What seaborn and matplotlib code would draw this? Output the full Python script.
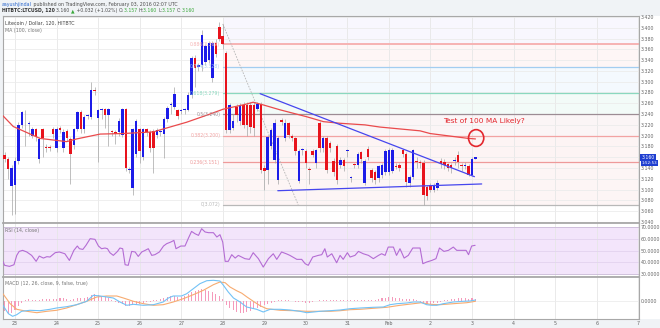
import matplotlib
matplotlib.use("Agg")
import matplotlib.pyplot as plt
import matplotlib.transforms as mtransforms
from matplotlib.patches import Ellipse, Rectangle
import numpy as np
import pandas as pd
import seaborn as sns

sns.set_theme(style="white")
plt.rcParams["font.family"] = ["DejaVu Sans"]

# ---------------- data ----------------
# 2h candles of LTC/USD, Jan 22 18:00 .. Feb 3 02:00 (UTC)
bar_open = [3.164, 3.157, 3.106, 3.109, 3.153, 3.220, 3.243, 3.222, 3.200, 3.212,
            3.157, 3.212, 3.179, 3.179, 3.212, 3.178, 3.214, 3.178, 3.208, 3.194,
            3.182, 3.212, 3.243, 3.212, 3.237, 3.235, 3.285, 3.232, 3.248, 3.249,
            3.238, 3.207, 3.207, 3.207, 3.202, 3.249, 3.136, 3.104, 3.167, 3.212,
            3.161, 3.212, 3.207, 3.208, 3.201, 3.206, 3.204, 3.231, 3.257, 3.254,
            3.247, 3.246, 3.247, 3.248, 3.275, 3.344, 3.327, 3.330, 3.337, 3.340,
            3.306, 3.371, 3.402, 3.385, 3.354, 3.210, 3.215, 3.254, 3.227, 3.256,
            3.256, 3.256, 3.256, 3.250, 3.258, 3.140, 3.136, 3.181, 3.155, 3.118,
            3.229, 3.196, 3.223, 3.200, 3.195, 3.117, 3.173, 3.172, 3.138, 3.172,
            3.149, 3.223, 3.178, 3.196, 3.186, 3.153, 3.180, 3.146, 3.155, 3.171,
            3.121, 3.148, 3.146, 3.169, 3.112, 3.176, 3.136, 3.133, 3.121, 3.128,
            3.133, 3.133, 3.135, 3.144, 3.145, 3.173, 3.167, 3.112, 3.124, 3.152,
            3.150, 3.150, 3.105, 3.108, 3.100, 3.104, 3.154, 3.152, 3.147, 3.145,
            3.153, 3.164, 3.144, 3.144, 3.143, 3.128, 3.157]
bar_high = [3.170, 3.160, 3.145, 3.160, 3.225, 3.246, 3.248, 3.228, 3.216, 3.215,
            3.198, 3.215, 3.185, 3.183, 3.216, 3.216, 3.218, 3.212, 3.212, 3.197,
            3.215, 3.246, 3.248, 3.238, 3.240, 3.300, 3.290, 3.250, 3.252, 3.252,
            3.252, 3.210, 3.210, 3.232, 3.252, 3.252, 3.142, 3.215, 3.230, 3.215,
            3.215, 3.215, 3.210, 3.212, 3.215, 3.210, 3.235, 3.255, 3.262, 3.290,
            3.250, 3.250, 3.252, 3.280, 3.348, 3.350, 3.335, 3.395, 3.370, 3.375,
            3.375, 3.380, 3.410, 3.407, 3.356, 3.260, 3.240, 3.258, 3.260, 3.262,
            3.262, 3.262, 3.262, 3.262, 3.262, 3.145, 3.202, 3.215, 3.230, 3.200,
            3.232, 3.230, 3.226, 3.203, 3.198, 3.175, 3.178, 3.175, 3.142, 3.175,
            3.176, 3.228, 3.200, 3.200, 3.190, 3.158, 3.185, 3.160, 3.158, 3.175,
            3.126, 3.150, 3.170, 3.172, 3.156, 3.180, 3.140, 3.137, 3.146, 3.150,
            3.176, 3.178, 3.178, 3.150, 3.150, 3.176, 3.170, 3.128, 3.176, 3.160,
            3.155, 3.155, 3.108, 3.112, 3.112, 3.118, 3.158, 3.156, 3.150, 3.150,
            3.160, 3.172, 3.150, 3.152, 3.147, 3.160, 3.160]
bar_low = [3.152, 3.120, 3.054, 3.055, 3.148, 3.215, 3.180, 3.200, 3.195, 3.190,
           3.150, 3.160, 3.170, 3.172, 3.195, 3.170, 3.205, 3.170, 3.190, 3.110,
           3.175, 3.208, 3.205, 3.205, 3.230, 3.230, 3.275, 3.152, 3.230, 3.215,
           3.180, 3.200, 3.185, 3.200, 3.198, 3.135, 3.130, 3.090, 3.160, 3.150,
           3.155, 3.200, 3.170, 3.130, 3.195, 3.200, 3.158, 3.225, 3.240, 3.250,
           3.230, 3.240, 3.240, 3.245, 3.270, 3.290, 3.320, 3.320, 3.330, 3.335,
           3.300, 3.345, 3.375, 3.360, 3.205, 3.205, 3.210, 3.225, 3.220, 3.215,
           3.200, 3.205, 3.200, 3.245, 3.130, 3.100, 3.110, 3.175, 3.150, 3.110,
           3.220, 3.190, 3.195, 3.190, 3.165, 3.112, 3.165, 3.140, 3.110, 3.160,
           3.140, 3.170, 3.170, 3.130, 3.170, 3.125, 3.110, 3.140, 3.135, 3.160,
           3.115, 3.140, 3.140, 3.150, 3.108, 3.155, 3.115, 3.110, 3.115, 3.122,
           3.128, 3.128, 3.130, 3.138, 3.135, 3.160, 3.105, 3.105, 3.120, 3.140,
           3.140, 3.072, 3.080, 3.095, 3.095, 3.100, 3.140, 3.138, 3.135, 3.130,
           3.145, 3.140, 3.135, 3.138, 3.125, 3.125, 3.157]
bar_close = [3.157, 3.138, 3.140, 3.153, 3.220, 3.243, 3.244, 3.223, 3.212, 3.198,
             3.194, 3.195, 3.177, 3.177, 3.203, 3.212, 3.210, 3.207, 3.195, 3.167,
             3.212, 3.243, 3.212, 3.235, 3.238, 3.285, 3.283, 3.248, 3.249, 3.238,
             3.249, 3.206, 3.203, 3.227, 3.249, 3.140, 3.138, 3.212, 3.227, 3.172,
             3.212, 3.206, 3.177, 3.178, 3.210, 3.207, 3.231, 3.251, 3.258, 3.278,
             3.236, 3.247, 3.248, 3.275, 3.344, 3.325, 3.331, 3.386, 3.367, 3.371,
             3.371, 3.352, 3.380, 3.370, 3.210, 3.256, 3.227, 3.238, 3.256, 3.220,
             3.220, 3.217, 3.214, 3.258, 3.136, 3.134, 3.198, 3.210, 3.223, 3.195,
             3.226, 3.223, 3.201, 3.196, 3.172, 3.172, 3.174, 3.149, 3.136, 3.165,
             3.173, 3.178, 3.196, 3.136, 3.178, 3.133, 3.118, 3.155, 3.143, 3.172,
             3.123, 3.145, 3.167, 3.157, 3.153, 3.160, 3.121, 3.118, 3.143, 3.146,
             3.172, 3.173, 3.173, 3.142, 3.140, 3.167, 3.115, 3.124, 3.173, 3.151,
             3.149, 3.090, 3.088, 3.100, 3.108, 3.112, 3.148, 3.146, 3.141, 3.140,
             3.155, 3.152, 3.143, 3.145, 3.128, 3.157, 3.160]

# MA(100, close) read at sample bars
ma_idx = [-0.5, 2.5, 10.2, 17.9, 20.8, 27.6, 34.2, 42.9, 52.6, 58.4, 63.1, 69.5,
          71.8, 74.7, 79.5, 87.3, 92.1, 96.9, 104.1, 108.4, 120.0, 122.9, 133.9, 136.0]
ma_val = [3.237, 3.217, 3.195, 3.189, 3.194, 3.203, 3.204, 3.207, 3.225, 3.238,
          3.249, 3.258, 3.262, 3.257, 3.248, 3.235, 3.226, 3.223, 3.220, 3.216,
          3.209, 3.204, 3.195, 3.194]

# RSI(14, close)
rsi_idx = [-0.5, 0, 1.4, 2.7, 3.5, 4.2, 5.2, 6.4, 7.8, 9.1, 10, 11.2, 12.2, 13.1,
           14.6, 15.8, 17.4, 18.7, 20, 21, 21.6, 22.6, 23.5, 24.7, 26.1, 27.1, 28,
           29, 29.7, 30.4, 31.4, 32.6, 33.3, 34.1, 34.8, 35.7, 36.7, 37.7, 38.6,
           39.6, 40.6, 41.5, 42.5, 43.4, 44.7, 45.9, 46.8, 48, 48.9, 49.5, 50.9,
           52.1, 53.1, 54, 55, 56, 56.9, 57.9, 58.9, 60.3, 61.3, 62.2, 63, 63.7,
           64.6, 65.6, 66.6, 67.5, 69.4, 70.7, 71.8, 73.3, 74.7, 76.2, 77.6, 78.6,
           80, 81.5, 82.4, 84.4, 85.8, 86.8, 87.7, 89, 90.6, 91.6, 92.5, 93.2, 94.5,
           95.9, 96.9, 97.8, 99, 99.8, 101.2, 102.2, 103.6, 105.1, 106.5, 108,
           108.9, 109.9, 110.8, 112.3, 113.2, 114.2, 115.4, 116.6, 117.9, 119, 120,
           120.8, 121.9, 123.4, 124.6, 125.6, 126.9, 128.2, 129.6, 130.6, 132,
           133.3, 134, 134.9, 135.9]
rsi_val = [40.9, 37.5, 36.6, 38.0, 46.0, 49.4, 50.3, 48.9, 46.0, 40.9, 45.4, 43.7,
           44.9, 44.6, 48.3, 48.9, 47.4, 41.7, 50.3, 54.0, 51.7, 51.1, 54.6, 60.3,
           59.7, 54.0, 51.7, 52.3, 51.7, 48.3, 46.0, 49.4, 52.3, 51.7, 38.0, 37.5,
           49.4, 48.9, 45.1, 48.9, 50.3, 51.7, 46.0, 46.6, 48.9, 54.0, 56.0, 57.4,
           58.8, 51.7, 54.0, 54.0, 60.8, 66.5, 64.5, 63.1, 68.8, 66.0, 65.4, 65.4,
           61.7, 63.7, 57.4, 40.9, 40.9, 46.6, 43.7, 46.0, 43.2, 42.6, 48.3, 43.2,
           36.0, 43.2, 47.4, 42.6, 48.9, 47.2, 46.0, 42.6, 42.6, 38.9, 37.5, 44.6,
           46.0, 46.6, 51.7, 44.6, 47.4, 39.7, 46.0, 42.6, 48.3, 44.6, 46.0, 49.4,
           47.4, 46.0, 43.2, 46.0, 47.4, 46.0, 53.1, 53.1, 46.0, 51.7, 43.7, 46.0,
           52.3, 52.3, 52.3, 38.9, 40.3, 41.7, 43.2, 52.3, 49.4, 50.3, 53.1, 50.3,
           50.3, 50.3, 46.6, 54.0, 54.6]

# MACD(12, 26, close, 9) in units of 0.001
macd_idx = [-0.5, 1.1, 2.3, 3.5, 4.9, 7.3, 10.2, 13.1, 15.0, 17.9, 20.8, 23.7,
            25.6, 27.6, 29.5, 31.4, 33.3, 35.3, 37.2, 40.1, 43.0, 45.8, 47.3,
            48.7, 51.1, 52.6, 54.5, 56.4, 58.4, 60.3, 62.2, 63.2, 64.6, 66.1,
            68.0, 69.9, 72.8, 74.7, 76.7, 79.6, 82.4, 85.3, 87.3, 89.2, 91.1,
            94.0, 96.9, 99.8, 102.7, 106.5, 109.4, 111.3, 113.3, 116.1, 118.1,
            120.0, 121.9, 123.4, 124.8, 126.7, 129.6, 132.5, 134.4, 136.0]
macd_val = [-4.6, -13.0, -15.6, -14.0, -10.6, -9.6, -10.0, -8.6, -7.3, -6.0, -4.0,
            -0.6, 5.4, 4.7, 3.7, 2.7, -1.3, -4.6, -3.6, -4.6, -4.0, -1.3, 2.7,
            4.7, 4.7, 7.0, 12.0, 17.0, 20.0, 20.4, 19.7, 15.4, 8.7, 2.7, -1.3,
            -6.3, -8.6, -11.3, -8.6, -8.6, -9.3, -10.6, -12.0, -11.3, -10.6,
            -10.0, -9.3, -8.0, -7.3, -6.6, -6.3, -4.0, -3.0, -2.3, -1.3, -1.3,
            -4.0, -4.6, -4.6, -3.0, -1.3, -0.6, -0.3, 0.7]
signal_idx = [-0.5, 1.6, 3.5, 6.4, 9.3, 12.2, 15.0, 17.9, 20.8, 23.7, 26.6, 29.5,
              32.4, 34.3, 37.2, 40.1, 43.0, 45.8, 48.7, 51.6, 54.5, 57.4, 60.3,
              62.2, 63.7, 65.1, 67.0, 68.5, 70.0, 72.0, 73.8, 75.7, 79.6, 83.4,
              87.3, 91.1, 94.0, 96.9, 99.8, 102.7, 106.5, 110.4, 114.2, 118.1,
              120.5, 122.9, 125.8, 129.6, 133.5, 136.0]
signal_val = [7.0, -3.0, -8.6, -10.6, -12.0, -10.6, -9.6, -7.3, -4.0, -0.6, 3.7,
              4.7, 4.7, 2.7, -0.6, -3.0, -4.6, -4.0, -1.3, 2.0, 6.0, 10.4, 16.0,
              18.7, 18.0, 13.7, 10.0, 7.5, 3.7, -1.0, -5.0, -8.0, -9.6, -10.0,
              -10.6, -10.6, -10.6, -10.0, -9.0, -8.6, -7.6, -6.6, -4.6, -3.0,
              -2.0, -3.6, -4.0, -3.0, -2.0, -0.6]
hist_val = [-10, -13, -12, -9, -5, -2, 1, 1.5, 1, 0.5, 1, 1.5, 2, 2, 1.5, 2, 2.5,
            2.5, 2, 1, 2, 2.5, 3, 3, 4, 6, 7, 6, 5, 4, 3, 1, -1, -2, -3, -5, -5,
            -4, -4, -3, -2, -1, -1, 0.5, 1, 1.5, 3, 4, 5, 5, 4, 4, 5, 7, 9, 10,
            11, 12, 11, 10, 9, 7, 5, 2, -4, -7, -9, -11, -12, -12, -11, -10, -8,
            -7, -6, -4, -3, -2, -1, 0.5, 1, 1, 0.5, -0.5, -1, -1, -1.5, -2, -2,
            -1, -0.5, 0.5, 1, 0.5, 0.5, 0.5, 0.5, 1, 1, 1, 1, 1, 1, 1, 1, 1, 1,
            1, 2, 2.5, 3, 3.5, 3.5, 3, 2.5, 2, 2, 2, 1.5, 0.5, -1, -2.5, -3, -3,
            -2.5, -2, -1, 0.5, 1, 1.5, 2, 2.5, 2.5, 2.5, 2, 2.5, 2]

# Fibonacci retracement (Jan 28 00:00 high -> Jan 29 low)
fib_ratio = ["0.886", "0.764", "0.618", "0.5", "0.382", "0.236", "0"]
fib_price = [3.369, 3.328, 3.279, 3.240, 3.200, 3.151, 3.072]
fib_high = 3.407
fib_line_colors = ["#f6b3b3", "#a3cdf0", "#8ad8bf", "#9c8c94", "#f2a3a3", "#ee9a9a", "#b8b8b8"]
fib_band_colors = ["#f8f7fe", "#fef6f6", "#f4f9fe", "#f3fbf8", "#fbf5f6", "#fdf4f4", "#fdf5f5"]
fib_anchor = [63, 84.8]

# hand-drawn trend lines (bar index, price)
trend_upper = ([73.8, 135.7], [3.2778, 3.1241])
trend_lower = ([78.9, 137.8], [3.0981, 3.1106])

day_labels = ["23", "24", "25", "26", "27", "28", "29", "30", "31", "Feb",
              "2", "3", "4", "5", "6", "7"]
last_price = 3.160

# ---------------- layout ----------------
W, H = 660, 328
fig = plt.figure(figsize=(W / 100, H / 100), dpi=100, facecolor="#f0f3f6")


def rect(x0, y0, x1, y1):
    return [x0 / W, 1 - y1 / H, (x1 - x0) / W, (y1 - y0) / H]


# white price-scale strip on the right (behind the axes and their labels)
fig.patches.append(Rectangle((639 / W, 1 - 319 / H), 21 / W, (319 - 15.5) / H,
                             transform=fig.transFigure, fc="white", ec="none",
                             zorder=-5))

ax = fig.add_axes(rect(3, 15.5, 639, 223))
ax_rsi = fig.add_axes(rect(3, 223, 639, 277.3), sharex=ax)
ax_macd = fig.add_axes(rect(3, 277.3, 639, 319), sharex=ax)

n = len(bar_close)
idx = np.arange(n)
x_lo, x_hi = -0.47, 183.24
day_pos = [3 + 12 * k for k in range(len(day_labels))]

for a in (ax, ax_rsi, ax_macd):
    a.set_facecolor("white")
    for s in a.spines.values():
        s.set_color("#a8a8a8")
        s.set_linewidth(0.8)
    for d in day_pos:
        a.axvline(d, color="#e7e7e7", lw=0.6, zorder=1)
    a.tick_params(axis="both", length=0, labelsize=3.4, labelcolor="#666666", pad=1.5)
    a.yaxis.tick_right()
ax_rsi.spines["top"].set_linewidth(1.3)
ax_macd.spines["top"].set_linewidth(1.3)

# ---------------- main price panel ----------------
ax.set_xlim(x_lo, x_hi)
ax.set_ylim(3.0383, 3.4226)
price_ticks = np.round(np.arange(3.04, 3.4201, 0.02), 3)
ax.set_yticks(price_ticks)
ax.set_yticklabels([f"{v:.3f}" for v in price_ticks])
for v in price_ticks:
    ax.axhline(v, color="#ececec", lw=0.6, zorder=1)

# fib bands and levels
band_tops = [3.4226] + fib_price[:-1]
for top, bot, col in zip(band_tops, fib_price, fib_band_colors):
    ax.fill_between([fib_anchor[0], x_hi], bot, top, color=col, lw=0, zorder=0.5)
for r, p, col in zip(fib_ratio, fib_price, fib_line_colors):
    lw = 1.4 if r == "0.886" else 0.9
    ax.plot([fib_anchor[0], x_hi], [p, p], color=col, lw=lw, zorder=2)
    ax.text(62.3, p, f"{r}({p:.3f})", color=col, fontsize=3.3, ha="right",
            va="center", zorder=6)
ax.plot(fib_anchor, [fib_high, fib_price[-1]], color="#b5b5b5", lw=0.6,
        ls=(0, (2, 1.5)), zorder=2)

# candles
o = np.array(bar_open)
h = np.array(bar_high)
l = np.array(bar_low)
c = np.array(bar_close)
up = c >= o
ax.vlines(idx, l, h, color="#a5a5a5", lw=0.5, zorder=3)
body_lo = np.minimum(o, c)
body_h = np.maximum(np.abs(c - o), 0.0018)
ax.bar(idx[up], body_h[up], bottom=body_lo[up], width=0.72, color="#1c1ce8",
       lw=0, zorder=4)
ax.bar(idx[~up], body_h[~up], bottom=body_lo[~up], width=0.72, color="#e8131c",
       lw=0, zorder=4)

# moving average
sns.lineplot(x=ma_idx, y=ma_val, ax=ax, color="#ea4a4c", lw=0.9, zorder=5)

# trend lines
ax.plot(*trend_upper, color="#4646ee", lw=0.9, zorder=5)
ax.plot(*trend_lower, color="#4646ee", lw=0.9, zorder=5)

# annotation
ax.text(126.6, 3.2265, "Test of 100 MA Likely?", color="#e3262d", fontsize=5.3,
        ha="left", va="center", zorder=7)
ax.add_patch(Ellipse((136.2, 3.1957), 4.4, 0.031, fill=False, ec="#e3262d",
                     lw=1.2, zorder=7))

ax.text(0.0035, 0.962, "Litecoin / Dollar, 120, HITBTC", transform=ax.transAxes,
        fontsize=3.4, color="#444444", ha="left", va="center")
ax.text(0.0035, 0.93, "MA (100, close)", transform=ax.transAxes,
        fontsize=3.4, color="#777777", ha="left", va="center")

# last-price tags on the price scale
tag = mtransforms.blended_transform_factory(ax.transAxes, ax.transData)
ax.text(1.004, 3.159, f"{last_price:.3f}", transform=tag, fontsize=3.3,
        color="white", ha="left", va="center", zorder=8, clip_on=False,
        bbox=dict(boxstyle="square,pad=0.25", fc="#1f3fd0", ec="none"))
ax.text(1.004, 3.1495, "1:52:53", transform=tag, fontsize=3.0,
        color="white", ha="left", va="center", zorder=8, clip_on=False,
        bbox=dict(boxstyle="square,pad=0.2", fc="#1f3fd0", ec="none"))

ax.tick_params(axis="x", labelbottom=False)
ax.set_xlabel("")
ax.set_ylabel("")

# ---------------- RSI panel ----------------
ax_rsi.set_ylim(27.26, 73.68)
ax_rsi.fill_between([x_lo, x_hi], 30, 70, color="#f3e5fb", lw=0, zorder=0.5)
for v in (40, 50, 60):
    ax_rsi.axhline(v, color="#e3d3ee", lw=0.6, zorder=1)
for v in (30, 70):
    ax_rsi.axhline(v, color="#c9b8d6", lw=0.6, zorder=1)
sns.lineplot(x=rsi_idx, y=rsi_val, ax=ax_rsi, color="#b46cd4", lw=0.8, zorder=4)
rsi_ticks = [30, 40, 50, 60, 70]
ax_rsi.set_yticks(rsi_ticks)
ax_rsi.set_yticklabels([f"{v:.4f}" for v in rsi_ticks])
ax_rsi.text(0.0035, 0.86, "RSI (14, close)", transform=ax_rsi.transAxes,
            fontsize=3.4, color="#777777", ha="left", va="center")
ax_rsi.tick_params(axis="x", labelbottom=False)
ax_rsi.set_xlabel("")
ax_rsi.set_ylabel("")

# ---------------- MACD panel ----------------
scale = 0.001
ax_macd.set_ylim(-0.0183, 0.0234)
ax_macd.axhline(0, color="#ececec", lw=0.6, zorder=1)
ax_macd.bar(idx, np.array(hist_val) * scale, width=0.3, color="#f59abb",
            lw=0, zorder=2)
sns.lineplot(x=macd_idx, y=np.array(macd_val) * scale, ax=ax_macd,
             color="#72c2f6", lw=0.8, zorder=4)
sns.lineplot(x=signal_idx, y=np.array(signal_val) * scale, ax=ax_macd,
             color="#f7ab70", lw=0.8, zorder=3)
ax_macd.set_yticks([0])
ax_macd.set_yticklabels(["0.0000"])
ax_macd.text(0.0035, 0.84, "MACD (12, 26, close, 9, false, true)",
             transform=ax_macd.transAxes, fontsize=3.4, color="#777777",
             ha="left", va="center")
ax_macd.set_xticks(day_pos)
ax_macd.set_xticklabels(day_labels)
ax_macd.set_xlabel("")
ax_macd.set_ylabel("")
ax_macd.set_xlim(x_lo, x_hi)

# ---------------- header ----------------
renderer = fig.canvas.get_renderer()


def chain(x_px, y_px, pieces, size):
    x = x_px
    for txt, col, weight in pieces:
        t = fig.text(x / W, 1 - y_px / H, txt, color=col, fontsize=size,
                     fontweight=weight, ha="left", va="center")
        x += t.get_window_extent(renderer=renderer).width


dark = "#4d4d4d"
green = "#3aa83a"
chain(2, 4.2, [("aayushjindal", "#2a66cc", "normal"),
               (" published on TradingView.com, February 03, 2016 02:07 UTC", dark, "normal")], 3.4)
chain(2, 10.4, [("HITBTC:LTCUSD, 120 ", "#333333", "bold"),
                ("3.160 ", dark, "normal"), ("▲", green, "normal"),
                (" +0.032 (+1.02%) ", dark, "normal"),
                ("O:", dark, "normal"), ("3.157 ", green, "normal"),
                ("H:", dark, "normal"), ("3.160 ", green, "normal"),
                ("L:", dark, "normal"), ("3.157 ", green, "normal"),
                ("C:", dark, "normal"), ("3.160", green, "normal")], 3.3)

fig.savefig("out.png", dpi=100, facecolor=fig.get_facecolor())
